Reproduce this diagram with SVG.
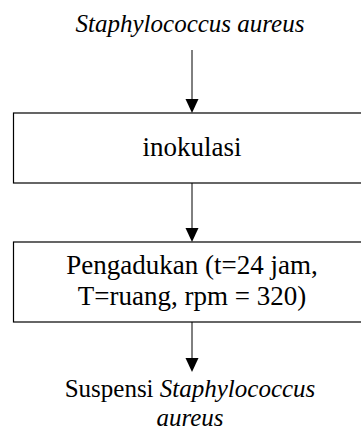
<svg xmlns="http://www.w3.org/2000/svg" width="361" height="430" viewBox="0 0 361 430">
  <style>
    text { font-family: "Liberation Serif", "Times New Roman", "DejaVu Serif", serif; font-size: 27px; fill: #000; text-anchor: middle; }
    .o { font-size: 25px; }
    .i { font-style: italic; }
    .box { fill: #fff; stroke: #000; stroke-width: 1.2; }
    .line { stroke: #000; stroke-width: 1; fill: none; }
    .head { fill: #000; }
  </style>
  <rect width="361" height="430" fill="#fff"/>

  <!-- connectors -->
  <g id="connectors">
    <line class="line" x1="192" y1="50" x2="192" y2="100"/>
    <polygon class="head" points="185.5,99 198.5,99 192,113"/>
    <line class="line" x1="192" y1="183" x2="192" y2="229"/>
    <polygon class="head" points="185.5,228 198.5,228 192,242"/>
    <line class="line" x1="192" y1="322" x2="192" y2="359"/>
    <polygon class="head" points="185.5,358 198.5,358 192,372"/>
  </g>

  <!-- start: culture -->
  <g id="start">
    <text class="o i" x="190" y="32">Staphylococcus aureus</text>
  </g>

  <!-- step 1 -->
  <g id="inokulasi">
    <rect class="box" x="13.5" y="113" width="357" height="70"/>
    <text x="192" y="156">inokulasi</text>
  </g>

  <!-- step 2 -->
  <g id="pengadukan">
    <rect class="box" x="13.5" y="242" width="357" height="80"/>
    <text x="192" y="274">Pengadukan (t=24 jam,</text>
    <text x="192" y="305">T=ruang, rpm = 320)</text>
  </g>

  <!-- result -->
  <g id="suspensi">
    <text class="o" x="190" y="397">Suspensi <tspan class="i">Staphylococcus</tspan></text>
    <text class="o i" x="190" y="426">aureus</text>
  </g>
</svg>
